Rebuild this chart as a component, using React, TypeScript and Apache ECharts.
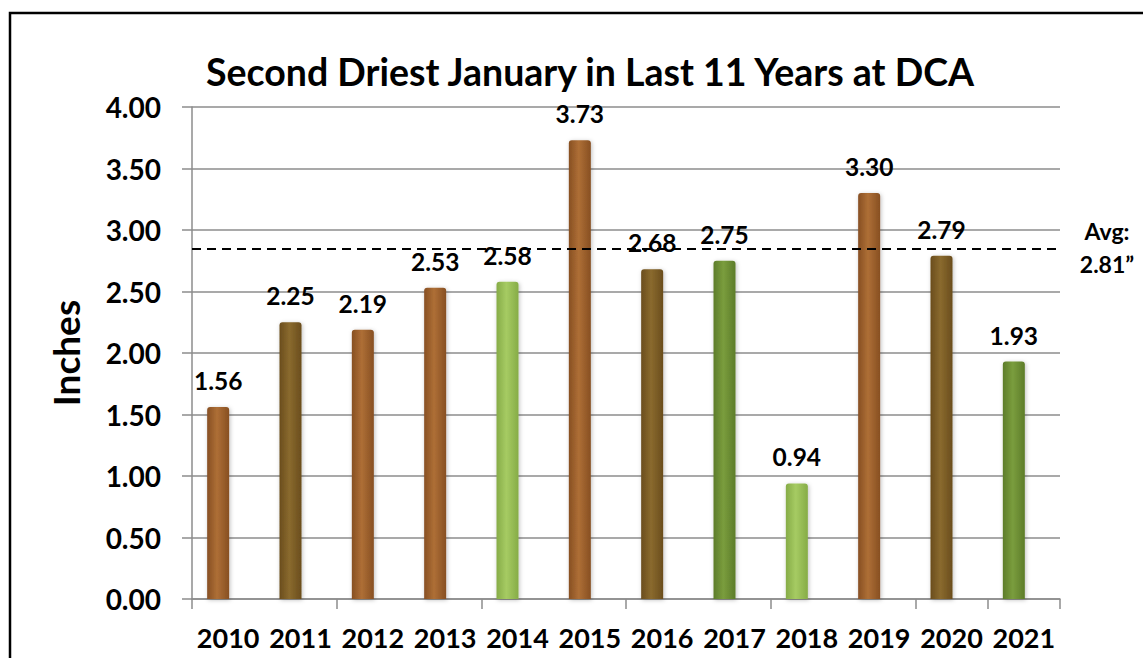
import React, { useEffect, useRef } from "react";
import * as echarts from "echarts";

const years = ["2010", "2011", "2012", "2013", "2014", "2015", "2016", "2017", "2018", "2019", "2020", "2021"];
const inches = [1.56, 2.25, 2.19, 2.53, 2.58, 3.73, 2.68, 2.75, 0.94, 3.3, 2.79, 1.93];
const colorKeys = ["brown", "olive", "brown", "brown", "lime", "brown", "olive", "green", "lime", "brown", "olive", "green"];
const avgLineValue = 2.85;
const avgLabel = ["Avg:", "2.81\u201d"];
const titleText = "Second Driest January in Last 11 Years at DCA";

const palette: Record<string, [string, string]> = {
  brown: ["#874F22", "#AE6F36"],
  olive: ["#6A4D1D", "#8A6A2E"],
  lime: ["#86AC47", "#A6CB63"],
  green: ["#5D7C2A", "#7A9D3D"],
};

const FONT = "Lato, 'Open Sans', sans-serif";

export default function App() {
  const ref = useRef<HTMLDivElement>(null);
  useEffect(() => {
    if (!ref.current) return;
    const chart = echarts.init(ref.current, undefined, { renderer: "svg" });
    const data = inches.map((v, i) => {
      const [edge, mid] = palette[colorKeys[i]];
      return {
        value: v,
        itemStyle: {
          color: new echarts.graphic.LinearGradient(0, 0, 1, 0, [
            { offset: 0, color: edge },
            { offset: 0.45, color: mid },
            { offset: 1, color: edge },
          ]),
          borderRadius: [3, 3, 0, 0],
          shadowColor: "rgba(0,0,0,0.25)",
          shadowBlur: 4,
          shadowOffsetX: 1,
          shadowOffsetY: 1,
        },
      };
    });
    const blank = inches.map(() => null);
    chart.setOption({
      animation: false,
      backgroundColor: "#ffffff",
      textStyle: { fontFamily: FONT },
      title: {
        text: titleText,
        left: 585,
        textAlign: "center",
        top: 47,
        textStyle: { fontFamily: FONT, fontWeight: "bold", fontSize: 37.5, color: "#000" },
      },
      grid: { left: 192, right: 83, top: 107, bottom: 59, containLabel: false },
      xAxis: {
        type: "category",
        data: years,
        axisLine: { show: true, lineStyle: { color: "#8c8c8c", width: 1.5 } },
        axisTick: { show: true, interval: 1, length: 10, lineStyle: { color: "#8c8c8c", width: 1.5 } },
        axisLabel: { interval: 0, fontFamily: FONT, fontWeight: "bold", fontSize: 27, color: "#000", margin: 25 },
      },
      yAxis: {
        type: "value",
        min: 0,
        max: 4,
        interval: 0.5,
        name: "Inches",
        nameLocation: "middle",
        nameGap: 108,
        nameRotate: 90,
        nameTextStyle: { fontFamily: FONT, fontWeight: "bold", fontSize: 37, color: "#000" },
        axisLine: { show: true, lineStyle: { color: "#8c8c8c", width: 1.5 } },
        axisTick: { show: true, length: 10, lineStyle: { color: "#8c8c8c", width: 1.5 } },
        axisLabel: {
          fontFamily: FONT,
          fontWeight: "bold",
          fontSize: 28,
          color: "#000",
          margin: 31,
          formatter: (v: number) => v.toFixed(2),
        },
        splitLine: { show: true, lineStyle: { color: "#8c8c8c", width: 1.5 } },
      },
      series: [
        {
          type: "bar",
          data,
          barWidth: 22,
          barGap: 0,
          label: {
            show: true,
            position: "top",
            distance: 14,
            fontFamily: FONT,
            fontWeight: "bold",
            fontSize: 24.5,
            color: "#000",
            formatter: (p: any) => Number(p.value).toFixed(2),
          },
          markLine: {
            silent: true,
            symbol: "none",
            label: { show: false },
            lineStyle: { color: "#000", type: [9, 6], width: 2 },
            data: [{ yAxis: avgLineValue }],
          },
        },
        {
          type: "bar",
          data: blank,
          barWidth: 20,
          barGap: 0,
          silent: true,
        },
      ],
      graphic: [
        {
          type: "rect",
          shape: { x: 10, y: 13, width: 1200, height: 700 },
          style: { fill: "none", stroke: "#000", lineWidth: 2.5 },
          silent: true,
        },
        {
          type: "text",
          x: 1107,
          y: 231,
          style: {
            text: avgLabel[0],
            font: `bold 23px ${FONT}`,
            fill: "#000",
            textAlign: "center",
            textVerticalAlign: "middle",
          },
        },
        {
          type: "text",
          x: 1107,
          y: 264,
          style: {
            text: avgLabel[1],
            font: `bold 23px ${FONT}`,
            fill: "#000",
            textAlign: "center",
            textVerticalAlign: "middle",
          },
        },
      ],
    });
    return () => chart.dispose();
  }, []);
  return (
    <div
      ref={ref}
      style={{ position: "absolute", left: 0, top: 0, width: 1143, height: 658, background: "#fff" }}
    />
  );
}
